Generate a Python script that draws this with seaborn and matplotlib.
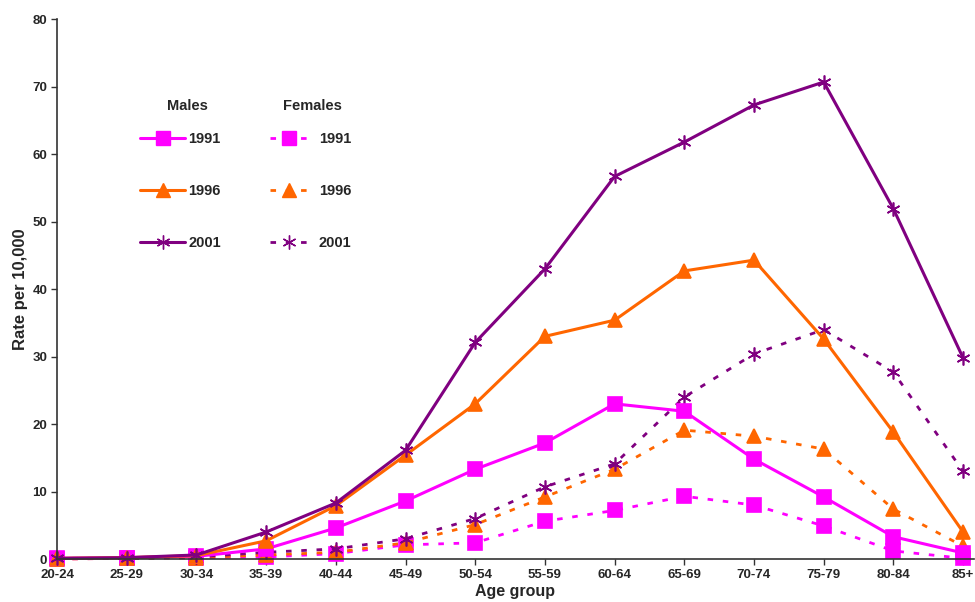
import numpy as np
import pandas as pd
import matplotlib
matplotlib.use("Agg")
import matplotlib.pyplot as plt
import seaborn as sns
from matplotlib.lines import Line2D

# -------------------------------------------------
# Data
# -------------------------------------------------

age_groups = ["20-24", "25-29", "30-34", "35-39", "40-44", "45-49", "50-54",
              "55-59", "60-64", "65-69", "70-74", "75-79", "80-84", "85+"]

males_1991 = [0.1, 0.2, 0.4, 1.5, 4.6, 8.6, 13.3, 17.2, 23.0, 21.9, 14.8, 9.2, 3.3, 0.9]
males_1996 = [0.1, 0.2, 0.5, 2.7, 7.9, 15.4, 23.0, 33.0, 35.4, 42.7, 44.3, 32.6, 18.8, 4.0]
males_2001 = [0.1, 0.2, 0.6, 4.0, 8.3, 16.1, 32.1, 43.0, 56.7, 61.8, 67.3, 70.7, 51.9, 29.8]

females_1991 = [0.0, 0.1, 0.2, 0.3, 0.8, 2.1, 2.4, 5.6, 7.2, 9.3, 8.0, 4.9, 1.2, 0.1]
females_1996 = [0.0, 0.1, 0.2, 0.6, 1.0, 2.4, 5.1, 9.2, 13.3, 19.1, 18.2, 16.3, 7.4, 1.9]
females_2001 = [0.1, 0.1, 0.3, 1.0, 1.5, 3.0, 6.0, 10.7, 14.1, 24.0, 30.4, 34.0, 27.7, 13.0]

years = ["1991", "1996", "2001"]
colors = {"1991": "#FF00FF", "1996": "#FF6600", "2001": "#800080"}
markers = {"1991": "s", "1996": "^", "2001": (6, 2, 0)}
msizes = {"1991": 10, "1996": 10, "2001": 10}

males = {"1991": males_1991, "1996": males_1996, "2001": males_2001}
females = {"1991": females_1991, "1996": females_1996, "2001": females_2001}

dash = (0, (2, 3.5))

# -------------------------------------------------
# Style
# -------------------------------------------------

sns.set_style("ticks")
plt.rcParams["font.family"] = ["Liberation Sans", "DejaVu Sans"]

fig = plt.figure(figsize=(9.75, 6.02), dpi=100)
ax = fig.add_axes([0.0585, 0.0714, 0.94, 0.8966])

x = np.arange(len(age_groups))

# -------------------------------------------------
# Lines
# -------------------------------------------------

for yr in years:
    sns.lineplot(x=x, y=females[yr], ax=ax, color=colors[yr], linewidth=2,
                 linestyle=dash, marker=markers[yr], markersize=msizes[yr],
                 markeredgecolor=colors[yr], markeredgewidth=1.2, sort=False)

for yr in years:
    sns.lineplot(x=x, y=males[yr], ax=ax, color=colors[yr], linewidth=2.2,
                 marker=markers[yr], markersize=msizes[yr],
                 markeredgecolor=colors[yr], markeredgewidth=1.2, sort=False)

# -------------------------------------------------
# Axes
# -------------------------------------------------

ax.set_xlim(0, 13.15)
ax.set_ylim(0, 80)
ax.set_yticks(range(0, 81, 10))
ax.set_xticks(x)
ax.set_xticklabels(age_groups)
for lab in ax.get_xticklabels() + ax.get_yticklabels():
    lab.set_fontweight("bold")
    lab.set_fontsize(9.5)

ax.tick_params(axis="both", length=4, width=1, color="#333333", pad=3)
sns.despine(ax=ax)
for side in ["left", "bottom"]:
    ax.spines[side].set_color("#333333")
    ax.spines[side].set_linewidth(1.2)

ax.set_xlabel("Age group", fontsize=11.5, fontweight="bold", labelpad=2)
ax.set_ylabel("Rate per 10,000", fontsize=12, fontweight="bold", labelpad=3)
for line in ax.lines:
    line.set_clip_on(False)

# -------------------------------------------------
# Legend (two columns: Males / Females)
# -------------------------------------------------

male_handles = [Line2D([], [], color=colors[yr], linewidth=2.2, marker=markers[yr],
                       markersize=msizes[yr], markeredgecolor=colors[yr]) for yr in years]
female_handles = [Line2D([], [], color=colors[yr], linewidth=2, linestyle=dash,
                         marker=markers[yr], markersize=msizes[yr],
                         markeredgecolor=colors[yr]) for yr in years]

leg_font = {"weight": "bold", "size": 10.5}
leg_m = fig.legend(male_handles, years, loc="upper left", frameon=False,
                   bbox_to_anchor=(140 / 975, 1 - 132 / 602), borderpad=0,
                   borderaxespad=0, labelspacing=2.6, handlelength=3.1,
                   handletextpad=0.2, prop=leg_font)
leg_f = fig.legend(female_handles, years, loc="upper left", frameon=False,
                   bbox_to_anchor=(270 / 975, 1 - 132 / 602), borderpad=0,
                   borderaxespad=0, labelspacing=2.6, handlelength=2.55,
                   handletextpad=0.8, prop=leg_font)

fig.text(187 / 975, 1 - 106 / 602, "Males", fontsize=10.5, fontweight="bold",
         ha="center", va="center")
fig.text(312 / 975, 1 - 106 / 602, "Females", fontsize=10.5, fontweight="bold",
         ha="center", va="center")

plt.savefig("out.png", dpi=100)
plt.close()
